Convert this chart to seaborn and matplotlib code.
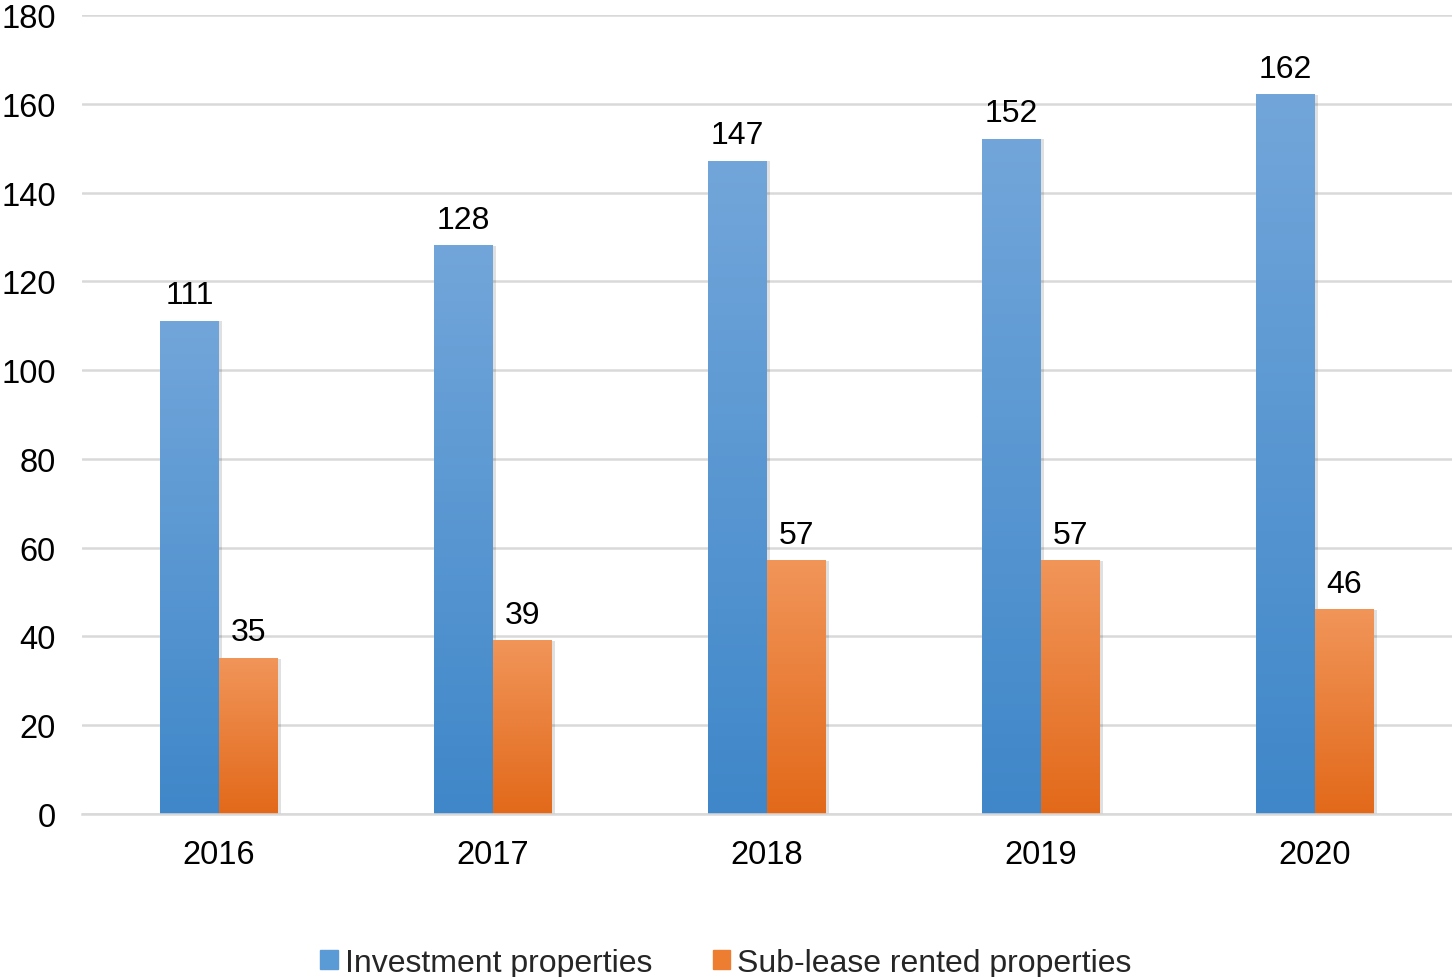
import numpy as np
import pandas as pd
import seaborn as sns
import matplotlib.pyplot as plt
from matplotlib.colors import LinearSegmentedColormap
from matplotlib.patches import Patch

# data
years = ['2016', '2017', '2018', '2019', '2020']
investment = [111, 128, 147, 152, 162]
sublease = [35, 39, 57, 57, 46]
series_names = ['Investment properties', 'Sub-lease rented properties']

df = pd.DataFrame({
    'year': years * 2,
    'value': investment + sublease,
    'series': [series_names[0]] * 5 + [series_names[1]] * 5,
})

sns.set_theme(style='white')
plt.rcParams['font.family'] = ['Liberation Sans', 'DejaVu Sans']

fig = plt.figure(figsize=(14.52, 9.78), dpi=100)
ax = fig.add_axes([0.0565, 0.1667, 0.9435, 0.817])

palette = {series_names[0]: '#5b9bd5', series_names[1]: '#ed7d31'}
sns.barplot(data=df, x='year', y='value', hue='series', palette=palette,
            width=0.43, gap=0, ax=ax, legend=False, saturation=1)

# gradient fill (lighter on top) for each bar
grads = {
    series_names[0]: LinearSegmentedColormap.from_list('b', ['#3f87c9', '#72a6da']),
    series_names[1]: LinearSegmentedColormap.from_list('o', ['#e2691a', '#f19559']),
}
grad = np.linspace(0, 1, 256).reshape(-1, 1)
for cont, name in zip(ax.containers, series_names):
    for p in cont:
        x, y = p.get_x(), p.get_y()
        w, h = p.get_width(), p.get_height()
        # soft shadow
        ax.add_patch(plt.Rectangle((x + 0.004, y), w + 0.006, h, color='#000000',
                                   alpha=0.12, lw=0, zorder=1.5))
        ax.imshow(grad, extent=[x, x + w, y, y + h], origin='lower', aspect='auto',
                  cmap=grads[name], zorder=2)
        p.set_alpha(0)
    ax.bar_label(cont, fontsize=23, padding=8, color='black')

ax.set_xlim(-0.5, 4.5)
ax.set_ylim(0, 180)
ax.set_yticks(range(0, 181, 20))
ax.yaxis.grid(True, color='#d9d9d9', lw=1.8)
ax.set_axisbelow(True)
for s in ['top', 'right', 'left']:
    ax.spines[s].set_visible(False)
ax.spines['bottom'].set_color('#d9d9d9')
ax.spines['bottom'].set_linewidth(1.8)
ax.tick_params(axis='both', labelsize=23.5, length=0, colors='black')
ax.tick_params(axis='y', pad=19)
ax.tick_params(axis='x', pad=18)
ax.set_xlabel('')
ax.set_ylabel('')

handles = [Patch(color='#5b9bd5'), Patch(color='#ed7d31')]
fig.legend(handles, series_names, loc='lower center', bbox_to_anchor=(0.5, -0.03),
           ncol=2, frameon=False, fontsize=23, handlelength=0.55, handleheight=0.55,
           handletextpad=0.22, columnspacing=1.9)

fig.savefig('out.png', dpi=100)
